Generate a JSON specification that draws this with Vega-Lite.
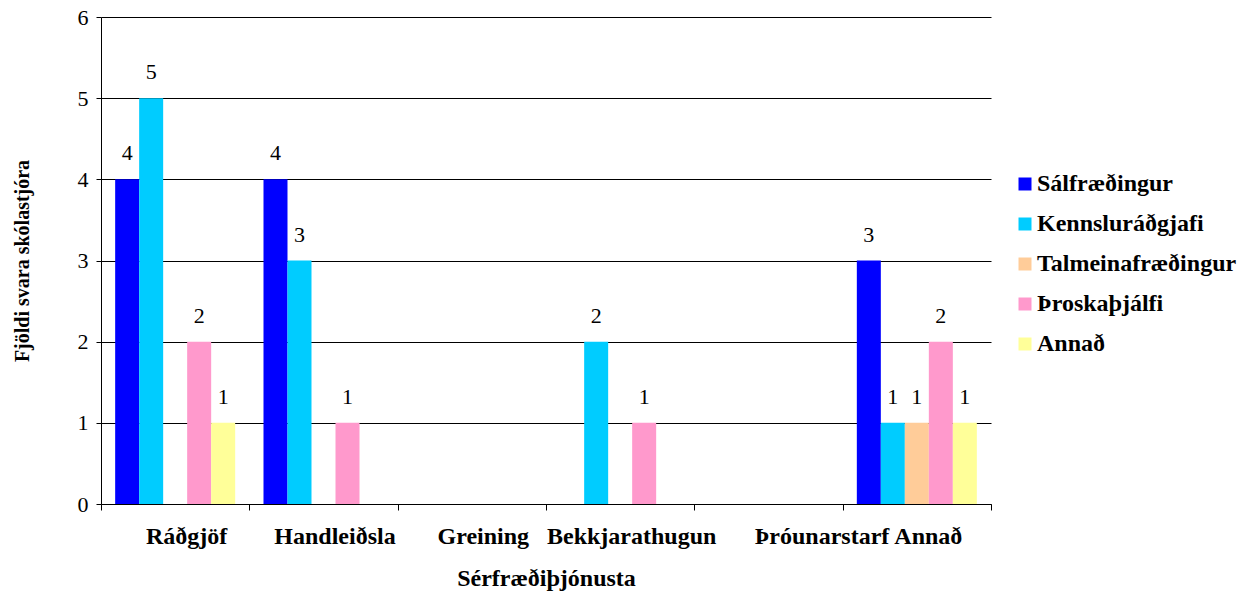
{
  "$schema": "https://vega.github.io/schema/vega-lite/v6.json",
  "autosize": "none",
  "width": 890,
  "height": 487,
  "padding": {"left": 101, "top": 17, "right": 256, "bottom": 90},
  "background": "white",
  "config": {
    "font": "Liberation Serif",
    "view": {"stroke": null},
    "axis": {"labelFont": "Liberation Serif", "titleFont": "Liberation Serif", "labelColor": "#000", "titleColor": "#000", "domainColor": "#000", "tickColor": "#000"},
    "legend": {"labelFont": "Liberation Serif"},
    "text": {"font": "Liberation Serif"}
  },
  "data": {
    "values": [
      {"kategoria": "Ráðgjöf", "tegund": "Sálfræðingur", "fjoldi": 4},
      {"kategoria": "Ráðgjöf", "tegund": "Kennsluráðgjafi", "fjoldi": 5},
      {"kategoria": "Ráðgjöf", "tegund": "Þroskaþjálfi", "fjoldi": 2},
      {"kategoria": "Ráðgjöf", "tegund": "Annað", "fjoldi": 1},
      {"kategoria": "Handleiðsla", "tegund": "Sálfræðingur", "fjoldi": 4},
      {"kategoria": "Handleiðsla", "tegund": "Kennsluráðgjafi", "fjoldi": 3},
      {"kategoria": "Handleiðsla", "tegund": "Þroskaþjálfi", "fjoldi": 1},
      {"kategoria": "Bekkjarathugun", "tegund": "Kennsluráðgjafi", "fjoldi": 2},
      {"kategoria": "Bekkjarathugun", "tegund": "Þroskaþjálfi", "fjoldi": 1},
      {"kategoria": "Annað", "tegund": "Sálfræðingur", "fjoldi": 3},
      {"kategoria": "Annað", "tegund": "Kennsluráðgjafi", "fjoldi": 1},
      {"kategoria": "Annað", "tegund": "Talmeinafræðingur", "fjoldi": 1},
      {"kategoria": "Annað", "tegund": "Þroskaþjálfi", "fjoldi": 2},
      {"kategoria": "Annað", "tegund": "Annað", "fjoldi": 1}
    ]
  },
  "encoding": {
    "x": {
      "field": "kategoria", "type": "nominal",
      "sort": ["Ráðgjöf", "Handleiðsla", "Greining", "Bekkjarathugun", "Þróunarstarf", "Annað"],
      "scale": {"domain": ["Ráðgjöf", "Handleiðsla", "Greining", "Bekkjarathugun", "Þróunarstarf", "Annað"], "paddingInner": 0, "paddingOuter": 0},
      "axis": {
        "title": "Sérfræðiþjónusta", "titleFontSize": 24, "titleFontWeight": "bold", "titlePadding": 18,
        "labelAngle": 0, "labelFontSize": 24, "labelFontWeight": "bold", "labelPadding": 14,
        "labelOffset": {"condition": {"test": "datum.value === 'Þróunarstarf'", "value": 53}, "value": 11},
        "labelOverlap": false,
        "tickBand": "extent", "tickSize": 6, "grid": false, "domainWidth": 1
      }
    },
    "xOffset": {
      "field": "tegund", "type": "nominal",
      "scale": {"domain": ["Sálfræðingur", "Kennsluráðgjafi", "Talmeinafræðingur", "Þroskaþjálfi", "Annað"], "paddingInner": 0, "paddingOuter": 0.59}
    },
    "y": {
      "field": "fjoldi", "type": "quantitative",
      "scale": {"domain": [0, 6]},
      "axis": {
        "title": "Fjöldi svara skólastjóra", "titleFontSize": 20, "titleFontWeight": "bold", "titlePadding": 45,
        "values": [0, 1, 2, 3, 4, 5, 6], "labelFontSize": 22, "labelPadding": 8, "tickSize": 5,
        "grid": true, "gridColor": "#000", "gridWidth": 1
      }
    }
  },
  "layer": [
    {
      "mark": {"type": "bar"},
      "encoding": {
        "color": {
          "field": "tegund", "type": "nominal",
          "scale": {"domain": ["Sálfræðingur", "Kennsluráðgjafi", "Talmeinafræðingur", "Þroskaþjálfi", "Annað"], "range": ["#0000FF", "#00CCFF", "#FFCC99", "#FF99CC", "#FFFF99"]},
          "legend": {
            "title": null, "orient": "none", "legendX": 912, "legendY": 155,
            "symbolType": "square", "symbolSize": 169, "symbolStrokeWidth": 0, "symbolOpacity": 1,
            "labelFontSize": 24, "labelFontWeight": "bold", "labelColor": "#000",
            "rowPadding": 16, "labelOffset": 0, "labelLimit": 300
          }
        }
      }
    },
    {
      "mark": {"type": "text", "baseline": "alphabetic", "dy": -19, "fontSize": 22, "color": "#000"},
      "encoding": {"text": {"field": "fjoldi", "type": "quantitative"}}
    }
  ]
}
